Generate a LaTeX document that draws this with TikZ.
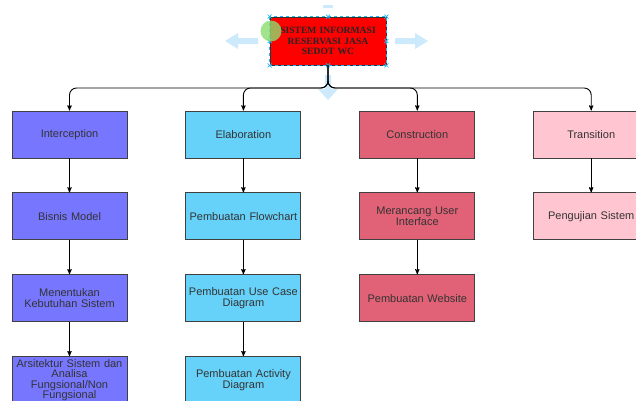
\documentclass[tikz,border=0pt]{standalone}
\usepackage{fontspec}
\setmainfont{Liberation Sans}
\newfontfamily\titlefont{Liberation Serif}
\usetikzlibrary{arrows,positioning}
\definecolor{intcolor}{RGB}{118,118,255}
\definecolor{elabcolor}{RGB}{102,210,250}
\definecolor{conscolor}{RGB}{225,98,118}
\definecolor{trancolor}{RGB}{255,197,208}
\definecolor{hintcolor}{RGB}{204,234,251}
\definecolor{selcolor}{RGB}{41,182,242}
\definecolor{dotcolor}{RGB}{140,220,110}
\tikzstyle{phase}=[draw=black!75,line width=0.9pt,minimum width=115pt,minimum height=47pt,text width=113pt,inner sep=1pt,align=center,text=black!80,font=\fontsize{11}{11}\selectfont]
\tikzstyle{title}=[draw=black!80,fill=red,line width=0.8pt,minimum width=116pt,minimum height=48pt,text width=114pt,inner sep=1pt,align=center,text=black!85,font=\titlefont\bfseries\fontsize{9.6}{10.5}\selectfont]
\tikzstyle{every edge}=[draw,line width=0.9pt,>=stealth']
\tikzstyle{bus line}=[draw,line width=0.9pt,rounded corners=7pt,->,>=stealth']
\tikzstyle{hint}=[fill=hintcolor]

\begin{document}
\begin{tikzpicture}[x=1pt,y=-1pt,node distance=34pt and 58pt]
  \useasboundingbox (0,0) rectangle (636,400);
  % handles round the selected box
  \fill[hint] (225,41) -- (238,33) -- (238,38) -- (258,38) -- (258,44) -- (238,44) -- (238,49) -- cycle;
  \fill[hint] (428,41) -- (415,33) -- (415,38) -- (395,38) -- (395,44) -- (415,44) -- (415,49) -- cycle;
  \fill[hint] (328,100) -- (318,89) -- (325,89) -- (325,75) -- (331,75) -- (331,89) -- (338,89) -- cycle;
  \fill[hint] (323,5) rectangle (333,8);

  \node[title]                   (sys) at (328,41) {SISTEM INFORMASI\\RESERVASI JASA\\SEDOT WC};
  \draw[selcolor,dashed,line width=0.8pt] (sys.north west) rectangle (sys.south east);
  \foreach \a in {north west,north,north east,east,south east,south,south west,west}
    \draw[selcolor,line width=0.7pt] ([shift={(-2,-2)}]sys.\a) -- ++(4,4) ++(0,-4) -- ++(-4,4);
  \fill[dotcolor,opacity=0.8] (271,31) circle (10.5pt);

  \node[phase,fill=intcolor]     (intc) at (69.5,134.5) {Interception};
  \node[phase,fill=elabcolor]    (elab) [right=of intc] {Elaboration};
  \node[phase,fill=conscolor]    (cons) [right=of elab] {Construction};
  \node[phase,fill=trancolor]    (tran) [right=of cons] {Transition};

  \node[phase,fill=intcolor]     (bis)  [below=of intc] {Bisnis Model};
  \node[phase,fill=intcolor]     (need) [below=of bis]  {Menentukan\\Kebutuhan Sistem};
  \node[phase,fill=intcolor,font=\fontsize{11}{10.3}\selectfont]
                                 (arch) [below=of need] {Arsitektur Sistem dan\\Analisa\\Fungsional/Non\\Fungsional};
  \node[phase,fill=elabcolor]    (flow) [below=of elab] {Pembuatan Flowchart};
  \node[phase,fill=elabcolor]    (usec) [below=of flow] {Pembuatan Use Case\\Diagram};
  \node[phase,fill=elabcolor]    (actv) [below=of usec] {Pembuatan Activity\\Diagram};
  \node[phase,fill=conscolor]    (ui)   [below=of cons] {Merancang User\\Interface};
  \node[phase,fill=conscolor]    (web)  [below=of ui]   {Pembuatan Website};
  \node[phase,fill=trancolor]    (test) [below=of tran] {Pengujian Sistem};

  \coordinate (bus) at (328,88);
  \draw[bus line] (sys.south) -- (bus) -| (intc.north);
  \draw[bus line] (sys.south) -- (bus) -| (elab.north);
  \draw[bus line] (sys.south) -- (bus) -| (cons.north);
  \draw[bus line] (sys.south) -- (bus) -| (tran.north);

  \path[->] (intc) edge (bis)
        (bis)  edge (need)
        (need) edge (arch)
        (elab) edge (flow)
        (flow) edge (usec)
        (usec) edge (actv)
        (cons) edge (ui)
        (ui)   edge (web)
        (tran) edge (test);
\end{tikzpicture}
\end{document}
